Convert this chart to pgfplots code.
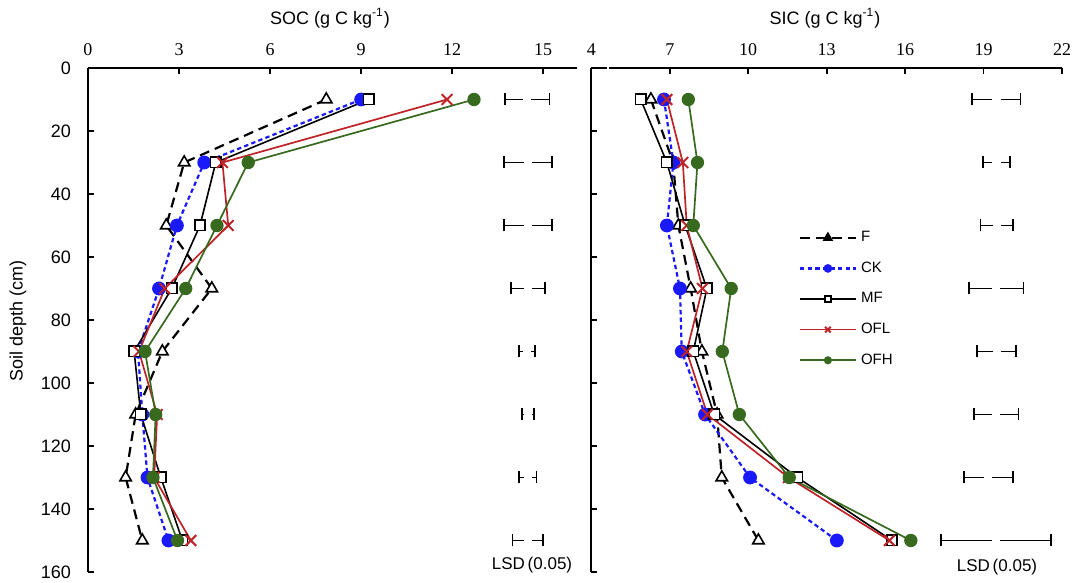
\documentclass[border=0pt]{standalone}
\usepackage{fontspec}
\setmainfont{Liberation Sans}
\newfontfamily\serifnum{Liberation Serif}
\usepackage{pgfplots}
\usepackage{pgfplotstable}
\pgfplotsset{compat=1.18}
\definecolor{ckblue}{RGB}{25,25,250}
\definecolor{oflred}{RGB}{190,35,40}
\definecolor{ofhgreen}{RGB}{55,105,30}

\pgfplotstableread{
d F CK MF OFL OFH
10 7.85 9.00 9.25 11.83 12.72
30 3.17 3.83 4.21 4.43 5.28
50 2.58 2.93 3.69 4.62 4.25
70 4.08 2.34 2.76 2.53 3.22
90 2.45 1.65 1.52 1.68 1.88
110 1.57 1.79 1.74 2.28 2.23
130 1.24 1.96 2.40 2.18 2.14
150 1.79 2.65 3.11 3.39 2.95
}\soc

\pgfplotstableread{
d F CK MF OFL OFH
10 6.28 6.78 5.89 6.89 7.71
30 7.13 7.14 6.89 7.50 8.06
50 7.33 6.89 7.59 7.65 7.90
70 7.80 7.39 8.42 8.25 9.35
90 8.23 7.46 7.90 7.65 9.01
110 8.81 8.35 8.70 8.44 9.66
130 8.99 10.07 11.88 11.54 11.57
150 10.39 13.39 15.50 15.40 16.22
}\sic

% LSD(0.05) bars: centre and half-width
\pgfplotstableread{
d c h
10 14.47 0.74
30 14.50 0.80
50 14.50 0.80
70 14.50 0.55
90 14.46 0.26
110 14.49 0.20
130 14.49 0.29
150 14.49 0.50
}\lsdsoc

\pgfplotstableread{
d c h
10 19.49 0.92
30 19.49 0.51
50 19.50 0.62
70 19.48 1.05
90 19.50 0.75
110 19.48 0.86
130 19.18 0.94
150 19.47 2.10
}\lsdsic

\pgfplotsset{
 panel/.style={
  scale only axis, y dir=reverse, ymin=0, ymax=160, ytick={0,20,...,160},
  axis x line=top, axis y line=left, axis line style={-, line width=0.9pt, black},
  tick align=inside, major tick length=3pt, tick style={line width=0.9pt, black},
  xticklabel style={overlay, font=\serifnum\fontsize{9}{10}\selectfont, yshift=2.5pt},
  yticklabel style={overlay, font=\fontsize{9}{10}\selectfont, xshift=-5pt},
  /pgf/number format/assume math mode=true,
  clip=false,
 },
 Fst/.style={black, line width=1.1pt, dash pattern=on 5pt off 3pt, mark=triangle*, mark size=3.3pt, mark options={solid, line width=0.8pt, fill=white}},
 CKst/.style={ckblue, line width=1.1pt, dash pattern=on 2.2pt off 1.6pt, mark=*, mark size=2.9pt, mark options={solid, fill=ckblue}},
 MFst/.style={black, line width=0.8pt, mark=square*, mark size=2.6pt, mark options={solid, line width=0.8pt, fill=white}},
 OFLst/.style={oflred, line width=0.85pt, mark=x, mark size=3.8pt, mark options={solid, line width=1pt}},
 OFHst/.style={ofhgreen, line width=0.85pt, mark=*, mark size=2.9pt, mark options={solid, fill=ofhgreen}},
 lsd/.style={only marks, mark=square*, mark size=1.8pt, mark options={draw=white, fill=white},
  error bars/.cd, x dir=both, x explicit, error mark=|,
  error bar style={line width=0.9pt, black, solid},
  error mark options={line width=0.9pt, black, mark size=3pt}, /pgfplots/.cd},
}

\begin{document}
\begin{tikzpicture}

\begin{axis}[panel, width=244.3pt, height=252pt,
  xmin=0, xmax=16.1, xtick={0,3,...,15}]
\addplot[Fst] table[x=F,y=d]{\soc};
\addplot[CKst] table[x=CK,y=d]{\soc};
\addplot[MFst] table[x=MF,y=d]{\soc};
\addplot[OFLst] table[x=OFL,y=d]{\soc};
\addplot[OFHst] table[x=OFH,y=d]{\soc};
\addplot[forget plot, lsd] table[x=c, y=d, x error=h]{\lsdsoc};
\coordinate (LO) at (axis cs:0,0);
\end{axis}

\begin{scope}[xshift=251.65pt]
\begin{axis}[panel, width=235.35pt, height=252pt,
  xmin=4, xmax=22, xtick={4,7,...,22}, yticklabels={},
  legend style={overlay, at={(0.44,0.685)}, anchor=north west, draw=none, fill=none,
   font=\fontsize{7.5}{8}\selectfont, row sep=4.6pt, inner sep=0pt},
  legend cell align=left,
  legend image code/.code={\draw[mark repeat=2, mark phase=2] plot coordinates {(0pt,0pt) (14pt,0pt) (28pt,0pt)};}]
\addlegendimage{black, line width=1.1pt, dash pattern=on 5pt off 3pt, mark=triangle*, mark size=2pt, mark options={solid, fill=black}}
\addlegendentry{F}
\addlegendimage{ckblue, line width=1.1pt, dash pattern=on 2.2pt off 1.6pt, mark=*, mark size=1.6pt, mark options={solid}}
\addlegendentry{CK}
\addlegendimage{black, line width=0.8pt, mark=square*, mark size=1.6pt, mark options={solid, fill=white}}
\addlegendentry{MF}
\addlegendimage{oflred, line width=0.85pt, mark=x, mark size=2pt, mark options={solid, line width=1pt}}
\addlegendentry{OFL}
\addlegendimage{ofhgreen, line width=0.85pt, mark=*, mark size=1.6pt}
\addlegendentry{OFH}
\addplot[Fst, forget plot] table[x=F,y=d]{\sic};
\addplot[CKst, forget plot] table[x=CK,y=d]{\sic};
\addplot[MFst, forget plot] table[x=MF,y=d]{\sic};
\addplot[OFLst, forget plot] table[x=OFL,y=d]{\sic};
\addplot[OFHst, forget plot] table[x=OFH,y=d]{\sic};
\addplot[forget plot, lsd] table[x=c, y=d, x error=h]{\lsdsic};
\draw[white, line width=2pt] (axis cs:4.60,0) -- (axis cs:4.68,0);
\end{axis}
\end{scope}

\node[font=\fontsize{9}{10}\selectfont] at ([shift={(121pt,25pt)}]LO) {SOC (g C kg\textsuperscript{-1})};
\node[font=\fontsize{9}{10}\selectfont] at ([shift={(368.5pt,25pt)}]LO) {SIC (g C kg\textsuperscript{-1})};
\node[rotate=90, font=\fontsize{9}{10}\selectfont] at ([shift={(-35pt,-126.5pt)}]LO) {Soil depth (cm)};
\node[font=\fontsize{8.5}{10}\selectfont] at ([shift={(222pt,-248.5pt)}]LO) {LSD\,(0.05)};
\node[font=\fontsize{8.5}{10}\selectfont] at ([shift={(454.5pt,-249.5pt)}]LO) {LSD\,(0.05)};

\pgfresetboundingbox
\path[use as bounding box] ([shift={(-44pt,-257.5pt)}]LO) rectangle ([shift={(492.5pt,34pt)}]LO);
\end{tikzpicture}
\end{document}
